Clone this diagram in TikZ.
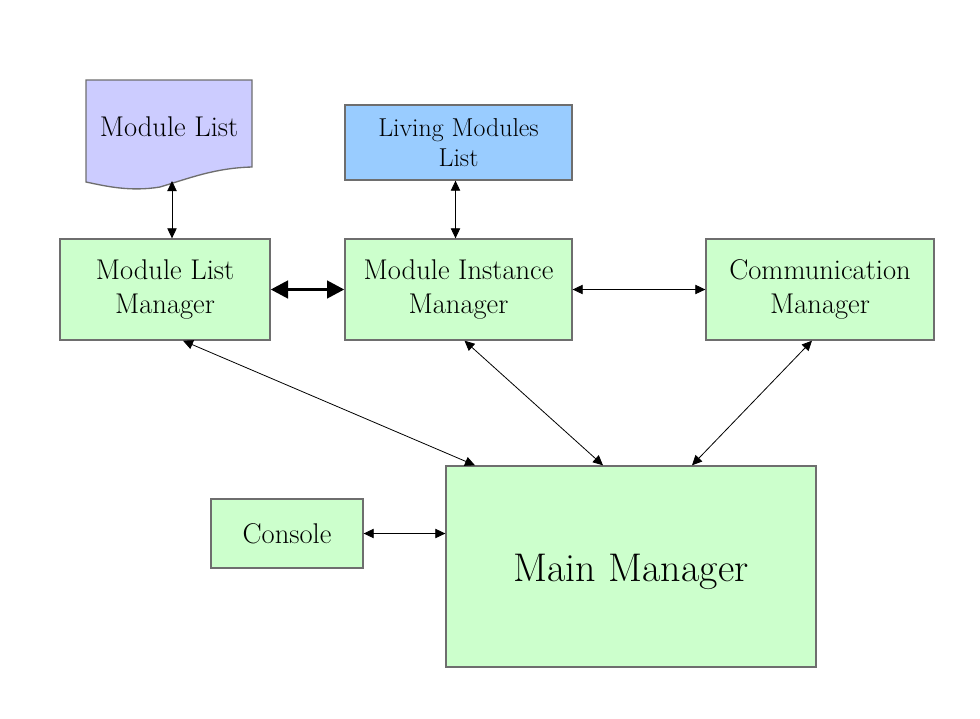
\documentclass[tikz,border=0pt]{standalone}
\usetikzlibrary{arrows.meta,calc}
\definecolor{mgrgreen}{RGB}{204,255,204}
\definecolor{listblue}{RGB}{153,204,255}
\definecolor{doclilac}{RGB}{204,204,255}
\definecolor{edgegray}{RGB}{110,110,110}
\begin{document}
\begin{tikzpicture}[x=0.75pt, y=-0.75pt,
  mgrbox/.style={draw=edgegray, line width=1pt, fill=mgrgreen, align=center, inner sep=0pt,
    font=\fontsize{21.4}{25}\selectfont},
  arr/.style={{Triangle[length=7.5pt,width=7pt]}-{Triangle[length=7.5pt,width=7pt]}, line width=0.6pt},
  bigarr/.style={{Triangle[length=13pt,width=13pt]}-{Triangle[length=13pt,width=13pt]}, line width=2.6pt}]
\useasboundingbox (0,0) rectangle (980,718);

% Document shape for the module list
\draw[draw=edgegray, line width=1pt, fill=doclilac] (86,80) -- (252,80) -- (252,167)
  .. controls (215,168) and (190,178) .. (160,187)
  .. controls (130,192) and (105,186) .. (86,182) -- cycle;
\node[font=\fontsize{21.4}{25}\selectfont] (doc) at (169,127) {Module List};
\coordinate (docbot) at (172,181);

% Boxes
\node[draw=edgegray, line width=1pt, fill=listblue, align=center, inner sep=0pt,
  minimum width=227*0.75pt, minimum height=75*0.75pt,
  font=\fontsize{19.4}{22.5}\selectfont] (lml) at (458.5,142.5) {Living Modules\\List};
\node[mgrbox, minimum width=210*0.75pt, minimum height=101*0.75pt] (mlm) at (165,289.5) {Module List\\Manager};
\node[mgrbox, minimum width=227*0.75pt, minimum height=101*0.75pt] (mim) at (458.5,289.5) {Module Instance\\Manager};
\node[mgrbox, minimum width=228*0.75pt, minimum height=101*0.75pt] (cm) at (820,289.5) {Communication\\Manager};
\node[mgrbox, minimum width=152*0.75pt, minimum height=69*0.75pt] (con) at (287,533.5) {Console};
\node[mgrbox, minimum width=370*0.75pt, minimum height=201*0.75pt,
  text height=28pt, text depth=6pt, font=\fontsize{30}{35}\selectfont] (main) at (631,566.5) {Main Manager};

% Connectors
\draw[arr] (docbot) -- (docbot |- mlm.north);
\draw[arr] ($(lml.south)+(-3,0)$) -- ($(mim.north)+(-3,0)$);
\draw[bigarr] (mlm.east) -- (mim.west);
\draw[arr] (mim.east) -- (cm.west);
\draw[arr] ($(mlm.south)+(18,0)$) -- ($(main.north)+(-156,0)$);
\draw[arr] ($(mim.south)+(6,0)$) -- ($(main.north)+(-28,0)$);
\draw[arr] ($(cm.south)+(-8,0)$) -- ($(main.north)+(61,0)$);
\draw[arr] (con.east) -- (con.east -| main.west);
\end{tikzpicture}
\end{document}
